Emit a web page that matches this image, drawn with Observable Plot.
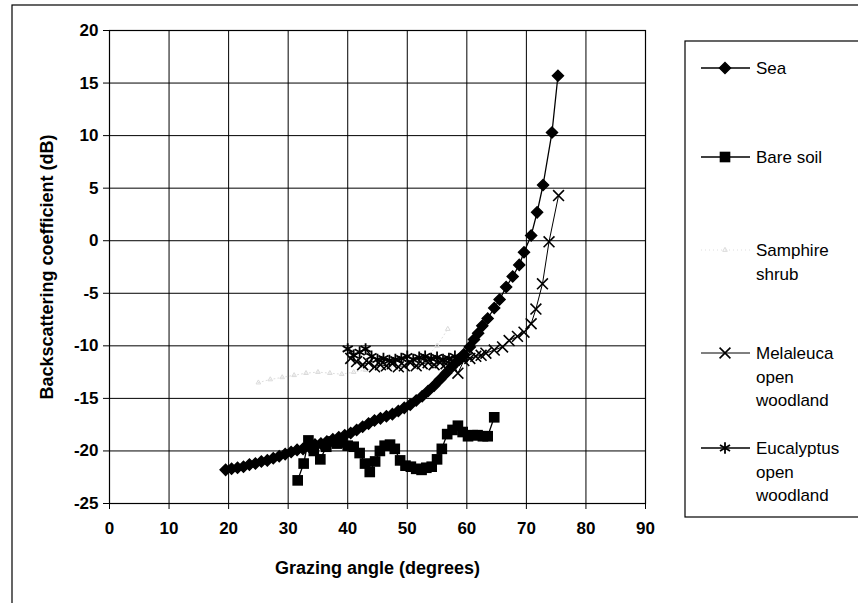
<!DOCTYPE html>
<html><head><meta charset="utf-8">
<script src="https://cdn.jsdelivr.net/npm/d3@7"></script>
<script src="https://cdn.jsdelivr.net/npm/@observablehq/plot@0.6"></script>
<style>
body{margin:0;background:#fff}
svg{font-family:"Liberation Sans",Arial,sans-serif}
</style>
</head><body><div id="chart"></div>
<script>
// ---- data ----
const seriesNames = ["Sea", "Bare soil", "Samphire shrub", "Melaleuca open woodland", "Eucalyptus open woodland"];
const xTicks = [0, 10, 20, 30, 40, 50, 60, 70, 80, 90];
const yTicks = [-25, -20, -15, -10, -5, 0, 5, 10, 15, 20];
const xTitle = "Grazing angle (degrees)";
const yTitle = "Backscattering coefficient (dB)";

const seaAngle = [19.5,20.5,21.5,22.5,23.5,24.5,25.5,26.5,27.5,28.5,29.5,30.5,31.5,32.5,33.5,34.5,35.5,36.5,37.5,38.5,39.5,40.5,41.5,42.5,43.5,44.5,45.5,46.5,47.5,48.5,49.5,50.5,51.5,52.5,53.5,54.5,55.5,56.5,57.5,58.5,59.5,60.5,61.2,61.9,62.6,63.5,64.6,65.5,66.6,67.7,68.8,69.6,70.8,71.8,72.8,74.3,75.3];
const seaValue = [-21.8,-21.7,-21.6,-21.5,-21.3,-21.2,-21.0,-20.9,-20.7,-20.5,-20.3,-20.1,-19.9,-19.8,-19.6,-19.4,-19.3,-19.1,-18.9,-18.7,-18.5,-18.3,-18.0,-17.7,-17.4,-17.1,-16.9,-16.7,-16.5,-16.2,-15.9,-15.6,-15.2,-14.8,-14.3,-13.8,-13.2,-12.6,-12.0,-11.4,-10.8,-10.1,-9.4,-8.8,-8.1,-7.4,-6.4,-5.6,-4.4,-3.4,-2.3,-1.1,0.5,2.7,5.3,10.3,15.7];

const soilAngle = [31.6,32.6,33.4,34.3,35.4,36.4,37.3,38.2,39.1,40.0,41.0,42.0,42.9,43.7,44.6,45.4,46.2,47.1,47.9,48.8,49.7,50.6,51.5,52.4,53.2,54.1,55.0,55.8,56.7,57.6,58.5,59.3,60.2,61.0,61.8,62.7,63.5,64.6];
const soilValue = [-22.8,-21.2,-19.0,-20.0,-20.8,-19.6,-19.1,-19.3,-19.2,-19.5,-19.6,-20.2,-21.2,-22.0,-21.0,-20.0,-19.5,-19.4,-19.8,-20.9,-21.4,-21.5,-21.7,-21.8,-21.6,-21.5,-20.8,-19.8,-18.4,-18.0,-17.6,-18.2,-18.6,-18.5,-18.5,-18.6,-18.6,-16.8];

const shrubAngle = [25,27,29,31,33,35,37,39,41,43,45,47,49,51,53,55,56.8];
const shrubValue = [-13.5,-13.2,-13.0,-12.8,-12.6,-12.5,-12.6,-12.7,-12.5,-12.3,-12.2,-12.0,-11.8,-11.5,-11.2,-10.0,-8.4];

const melaAngle = [40.5,41.5,42.5,43.5,44.5,45.5,46.5,47.5,48.5,49.5,50.5,51.5,52.5,53.5,54.5,55.5,56.5,57.5,58.5,59.5,60.5,61.5,62.4,63.2,64.6,66.0,67.1,68.5,69.6,70.8,71.6,72.7,73.8,75.4];
const melaValue = [-11.2,-11.5,-11.8,-11.6,-12.0,-11.8,-11.9,-11.7,-12.0,-11.9,-11.6,-11.9,-11.7,-11.6,-11.8,-11.6,-11.7,-11.5,-12.6,-11.4,-11.2,-11.0,-10.9,-10.7,-10.4,-10.1,-9.5,-9.1,-8.7,-7.9,-6.5,-4.1,-0.1,4.3];

const eucAngle = [40,41,42,43,44,45,46,47,48,49,50,51,52,53,54,55,56,57,58,59,60];
const eucValue = [-10.3,-10.9,-10.6,-10.3,-11.0,-11.3,-11.2,-11.4,-11.3,-11.2,-11.0,-11.3,-11.1,-11.0,-11.2,-11.1,-11.3,-11.2,-11.0,-11.2,-11.0];

// ---- build tables ----
const rows = (a, v, s) => a.map((x, i) => ({angle: x, value: v[i], series: s}));
const sea = rows(seaAngle, seaValue, seriesNames[0]);
const soil = rows(soilAngle, soilValue, seriesNames[1]);
const shrub = rows(shrubAngle, shrubValue, seriesNames[2]);
const mela = rows(melaAngle, melaValue, seriesNames[3]);
const euc = rows(eucAngle, eucValue, seriesNames[4]);

const FONT = "'Liberation Sans', Arial, sans-serif";
const styles = [
  {data: sea, symbol: "diamond2", r: 5, fill: "#000", stroke: "#000", sw: 1.4, line: "#000", lw: 1.3, dash: null},
  {data: soil, symbol: "square", r: 6, fill: "#000", stroke: "none", sw: 1.4, line: "#000", lw: 1.3, dash: null},
  {data: shrub, symbol: "triangle2", r: 2.2, fill: "none", stroke: "#dadada", sw: 1, line: "#dedede", lw: 1, dash: "1,3"},
  {data: mela, symbol: "times", r: 5, fill: "none", stroke: "#000", sw: 1.6, line: "#000", lw: 1, dash: null},
  {data: euc, symbol: "asterisk", r: 5.5, fill: "none", stroke: "#000", sw: 1.8, line: "#000", lw: 1.3, dash: null}
];
const fmt = d => String(d);

const marks = [
  Plot.gridX(xTicks, {stroke: "#000", strokeOpacity: 1, strokeWidth: 1}),
  Plot.gridY(yTicks, {stroke: "#000", strokeOpacity: 1, strokeWidth: 1}),
  Plot.frame({stroke: "#000", strokeWidth: 1.2}),
  Plot.axisX(xTicks, {tickSize: 6, tickPadding: 12, fontSize: 17, fontWeight: "bold", label: null, stroke: "#000", tickFormat: fmt}),
  Plot.axisY(yTicks, {tickSize: 6, tickPadding: 5, fontSize: 17, fontWeight: "bold", label: null, stroke: "#000", tickFormat: fmt}),
  Plot.text([xTitle], {frameAnchor: "bottom", dy: 70, fontSize: 18, fontWeight: "bold", fill: "#000", textAnchor: "middle"}),
  Plot.text([yTitle], {frameAnchor: "left", dx: -62, rotate: -90, fontSize: 18, fontWeight: "bold", fill: "#000", textAnchor: "middle"})
];
for (const s of styles) {
  marks.push(Plot.line(s.data, {x: "angle", y: "value", stroke: s.line, strokeWidth: s.lw, strokeDasharray: s.dash}));
}
for (const s of styles) {
  marks.push(Plot.dot(s.data, {x: "angle", y: "value", symbol: () => s.symbol, r: s.r, fill: s.fill, stroke: s.stroke, strokeWidth: s.sw}));
}

const chart = Plot.plot({
  width: 858, height: 603,
  marginLeft: 109, marginRight: 213, marginTop: 30, marginBottom: 100,
  style: {fontFamily: FONT, background: "#fff", color: "#000", overflow: "visible"},
  x: {domain: [0, 90], label: null},
  y: {domain: [-25, 20], label: null},
  symbol: {type: "identity"},
  marks
});
document.getElementById("chart").appendChild(chart);

// ---- outer border and legend ----
const svg = d3.select(chart);
svg.insert("rect", ":first-child").attr("x", 12).attr("y", 5).attr("width", 860).attr("height", 620)
  .attr("fill", "none").attr("stroke", "#000").attr("stroke-width", 1.2);

const lg = svg.append("g").attr("text-anchor", "start");
lg.append("rect").attr("x", 685).attr("y", 41).attr("width", 190).attr("height", 476)
  .attr("fill", "#fff").attr("stroke", "#000").attr("stroke-width", 1.2);
const symMap = {diamond2: d3.symbolDiamond2, square: d3.symbolSquare, triangle2: d3.symbolTriangle2, times: d3.symbolTimes, asterisk: d3.symbolAsterisk};
const legendY = [68, 157, 250, 353, 448];
const legendLines = [["Sea"], ["Bare soil"], ["Samphire", "shrub"], ["Melaleuca", "open", "woodland"], ["Eucalyptus", "open", "woodland"]];
styles.forEach((s, i) => {
  const y = legendY[i];
  lg.append("line").attr("x1", 701).attr("x2", 750).attr("y1", y).attr("y2", y)
    .attr("stroke", s.line).attr("stroke-width", s.lw).attr("stroke-dasharray", s.dash);
  lg.append("path").attr("transform", `translate(725,${y})`)
    .attr("d", d3.symbol(symMap[s.symbol], Math.PI * s.r * s.r)())
    .attr("fill", s.fill).attr("stroke", s.stroke).attr("stroke-width", s.sw);
  const t = lg.append("text").attr("x", 756).attr("y", y + 6).attr("font-size", 17)
    .attr("fill", "#000").attr("text-anchor", "start");
  legendLines[i].forEach((line, j) => t.append("tspan").attr("x", 756).attr("dy", j ? 23.5 : 0).text(line));
});
</script>
</body></html>
